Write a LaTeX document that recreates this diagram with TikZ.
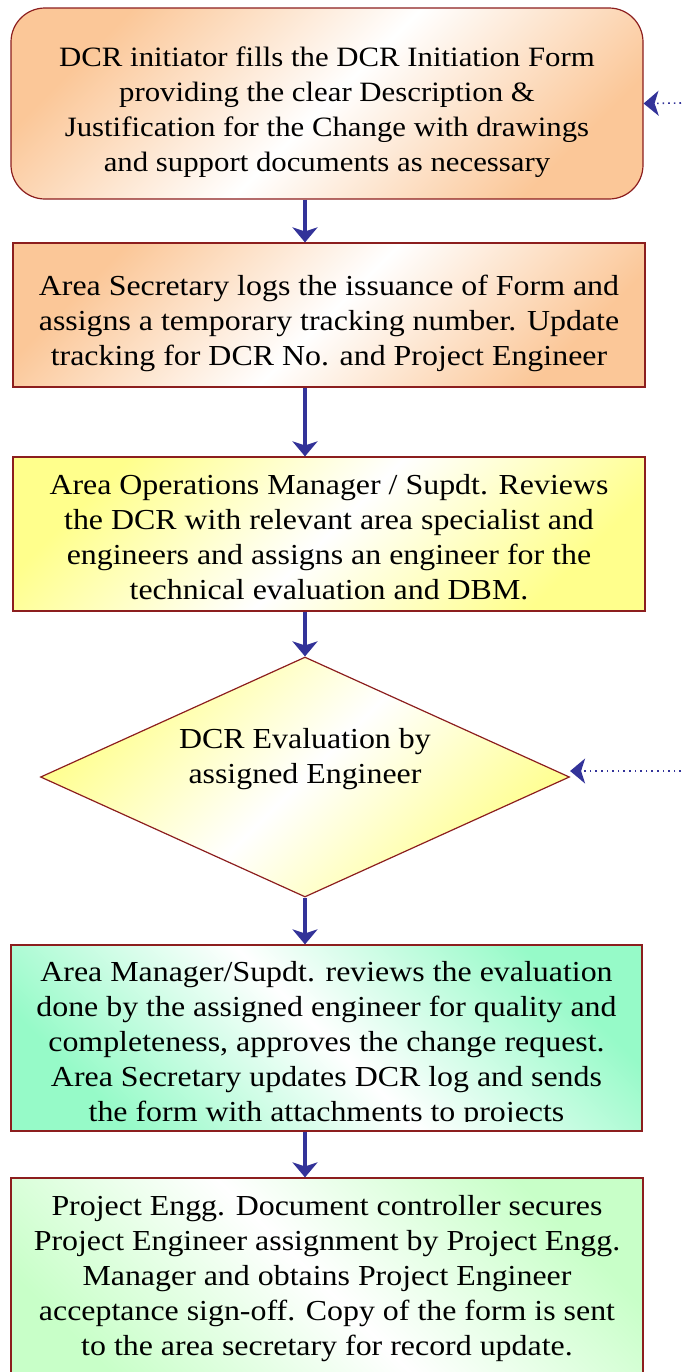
\documentclass[tikz,border=0pt]{standalone}
\usepackage{fontspec}
\setmainfont{Liberation Serif}[FakeStretch=1.1]
\usetikzlibrary{positioning,shapes.geometric,arrows.meta}
\definecolor{peach}{RGB}{251,199,152}
\definecolor{lemon}{RGB}{255,255,140}
\definecolor{mint}{RGB}{150,250,200}
\definecolor{pale}{RGB}{200,255,200}
\definecolor{rim}{RGB}{140,30,30}
\definecolor{flow}{RGB}{51,51,153}

\begin{document}
\begin{tikzpicture}[
		x=0.5pt, y=-0.5pt,
		main/.style = {draw=rim, line width=0.6pt, minimum width=316pt, inner sep=0pt},
		txt/.style = {font=\fontsize{14.5}{17.5}\selectfont, align=center, inner sep=0pt},
		link/.style = {draw=flow, line width=2pt, -{Stealth[length=7.5pt, width=12.5pt, inset=2pt]}},
		back/.style = {link, line width=0.8pt, dotted}
	]
	\useasboundingbox (0,0) rectangle (681,1372);
	\node[main, rounded corners=17pt, minimum height=95.5pt, top color=peach, bottom color=peach, middle color=white, shading angle=45] (init) at (327,103.5) {};
	\node[txt, font=\fontsize{14}{17.5}\selectfont] (inittext) at ([yshift=-4.5pt]init.center) {DCR initiator fills the DCR Initiation Form\\providing the clear Description \&\\Justification for the Change with drawings\\and support documents as necessary};
	\node[main, minimum height=72pt, top color=peach, bottom color=peach, middle color=white, shading angle=45] (log) at (329,315) {};
	\node[txt] (logtext) at ([yshift=-4pt]log.center) {Area Secretary logs the issuance of Form and\\assigns a temporary tracking number. Update\\tracking for DCR No. and Project Engineer};
	\node[main, minimum height=77pt, top color=lemon, bottom color=lemon, middle color=white, shading angle=45] (review) at (329,534) {};
	\node[txt] (reviewtext) at ([yshift=-1.5pt]review.center) {Area Operations Manager / Supdt. Reviews\\the DCR with relevant area specialist and\\engineers and assigns an engineer for the\\technical evaluation and DBM.};
	\node[main, diamond, minimum width=264.5pt, minimum height=120pt, top color=lemon, bottom color=lemon, middle color=white, shading angle=45] (eval) at (305,777) {};
	\node[txt] (evaltext) at (305,759) {DCR Evaluation by\\assigned Engineer};
	\node[main, minimum width=315.5pt, minimum height=93pt, top color=mint, bottom color=mint, middle color=white, shading angle=-45] (approve) at (326.5,1038) {};
	\begin{scope}
		\clip (approve.north west) rectangle ([yshift=5pt]approve.south east);
		\node[txt, below=8.5pt of approve.north] (approvetext) {Area Manager/Supdt. reviews the evaluation\\done by the assigned engineer for quality and\\completeness, approves the change request.\\Area Secretary updates DCR log and sends\\the form with attachments to projects};
	\end{scope}
	\node[main, minimum height=111pt, top color=pale, bottom color=pale, middle color=white, shading angle=-45] (assign) at (327,1289) {};
	\node[txt, below=9pt of assign.north] (assigntext) {Project Engg. Document controller secures\\Project Engineer assignment by Project Engg.\\Manager and obtains Project Engineer\\acceptance sign-off. Copy of the form is sent\\to the area secretary for record update.};
	\coordinate (ret1) at (681,103);
	\coordinate (ret2) at (681,771);
	\draw[link] (init.south -| eval) -- (log.north -| eval);
	\draw[link] (log.south -| eval) -- (review.north -| eval);
	\draw[link] (review.south -| eval) -- (eval.north);
	\draw[link] (eval.south) -- (approve.north -| eval);
	\draw[link] (approve.south -| eval) -- (assign.north -| eval);
	\draw[back] (ret1) -- (init.east);
	\draw[back] (ret2) -- (ret2 -| eval.east);
\end{tikzpicture}
\end{document}
